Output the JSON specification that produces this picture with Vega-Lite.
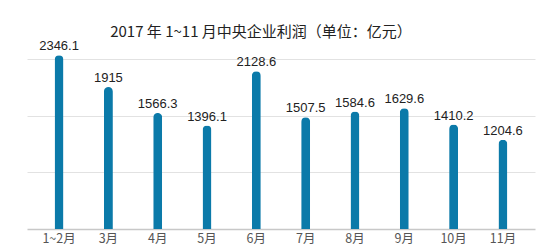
{
  "$schema": "https://vega.github.io/schema/vega-lite/v6.json",
  "autosize": {"type": "none"},
  "padding": {"left": 27, "top": 40, "right": 15, "bottom": 21},
  "width": 508,
  "height": 189,
  "background": "white",
  "title": {
    "text": "2017 年 1~11 月中央企业利润（单位：亿元）",
    "font": "Noto Sans CJK SC",
    "fontSize": 15,
    "fontWeight": "normal",
    "color": "#222",
    "dx": -20,
    "offset": 0
  },
  "data": {
    "values": [
      {"month": "1~2月", "profit": 2346.1, "label": "2346.1"},
      {"month": "3月", "profit": 1915, "label": "1915"},
      {"month": "4月", "profit": 1566.3, "label": "1566.3"},
      {"month": "5月", "profit": 1396.1, "label": "1396.1"},
      {"month": "6月", "profit": 2128.6, "label": "2128.6"},
      {"month": "7月", "profit": 1507.5, "label": "1507.5"},
      {"month": "8月", "profit": 1584.6, "label": "1584.6"},
      {"month": "9月", "profit": 1629.6, "label": "1629.6"},
      {"month": "10月", "profit": 1410.2, "label": "1410.2"},
      {"month": "11月", "profit": 1204.6, "label": "1204.6"}
    ]
  },
  "encoding": {
    "x": {
      "field": "month",
      "type": "nominal",
      "sort": null,
      "scale": {"paddingInner": 0, "paddingOuter": 0.15},
      "axis": {
        "title": null,
        "labelAngle": 0,
        "labelFont": "Noto Sans CJK SC",
        "labelFontSize": 12.5,
        "labelColor": "#555",
        "labelPadding": 3,
        "ticks": false,
        "domainColor": "#c8c8c8",
        "domainWidth": 1.5
      }
    },
    "y": {
      "field": "profit",
      "type": "quantitative",
      "scale": {"domain": [0, 2551], "nice": false, "zero": true},
      "axis": {
        "title": null,
        "labels": false,
        "ticks": false,
        "domain": false,
        "values": [765, 1530, 2295],
        "gridColor": "#e2e2e2",
        "gridWidth": 1
      }
    }
  },
  "layer": [
    {
      "mark": {
        "type": "bar",
        "size": 9,
        "color": "#0b7aa9",
        "cornerRadiusTopLeft": 4.5,
        "cornerRadiusTopRight": 4.5
      }
    },
    {
      "mark": {
        "type": "text",
        "baseline": "bottom",
        "dy": -2,
        "font": "Liberation Sans",
        "fontSize": 13,
        "color": "#222"
      },
      "encoding": {"text": {"field": "label"}}
    }
  ],
  "config": {"view": {"stroke": null}}
}
